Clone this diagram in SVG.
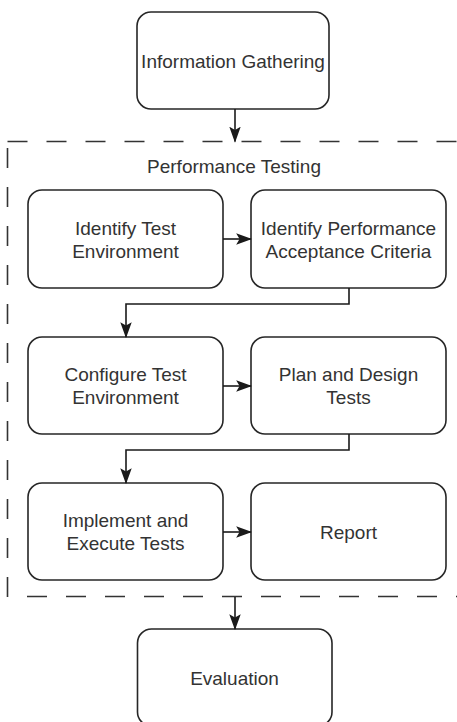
<svg xmlns="http://www.w3.org/2000/svg" width="457" height="722" viewBox="0 0 457 722">
  <style>
    .box { fill: #ffffff; stroke: #262626; stroke-width: 1.6; }
    .lbl { font-family: "Liberation Sans", Arial, sans-serif; font-size: 19px; fill: #333333; text-anchor: middle; }
    .edge { fill: none; stroke: #1a1a1a; stroke-width: 1.6; marker-end: url(#arrow); }
    .dash { fill: none; stroke: #333333; stroke-width: 1.6; stroke-dasharray: 20 19; }
  </style>
  <defs>
    <marker id="arrow" markerUnits="userSpaceOnUse" markerWidth="16" markerHeight="12" viewBox="0 0 14 10" refX="13" refY="5" orient="auto">
      <path d="M0,0 L14,5 L0,10 L3,5 Z" fill="#1a1a1a"/>
    </marker>
  </defs>
  <rect width="457" height="722" fill="#ffffff"/>

  <!-- Performance Testing swimlane (dashed, open to the right) -->
  <g id="performance-testing">
    <line class="dash" x1="7.5" y1="141.5" x2="460" y2="141.5"/>
    <line class="dash" x1="7.5" y1="148" x2="7.5" y2="597"/>
    <line class="dash" x1="27" y1="596.5" x2="460" y2="596.5"/>
    <text class="lbl" x="234" y="172.5">Performance Testing</text>
  </g>

  <g id="information-gathering">
    <rect class="box" x="137" y="12" width="192" height="97" rx="14"/>
    <text class="lbl" x="233" y="67.5">Information Gathering</text>
  </g>

  <g id="identify-test-environment">
    <rect class="box" x="28" y="190" width="195" height="98" rx="14"/>
    <text class="lbl" x="125.5" y="234.5">Identify Test</text>
    <text class="lbl" x="125.5" y="257.5">Environment</text>
  </g>

  <g id="identify-acceptance-criteria">
    <rect class="box" x="251" y="190" width="195" height="98" rx="14"/>
    <text class="lbl" x="348.5" y="234.5">Identify Performance</text>
    <text class="lbl" x="348.5" y="257.5">Acceptance Criteria</text>
  </g>

  <g id="configure-test-environment">
    <rect class="box" x="28" y="337" width="195" height="97" rx="14"/>
    <text class="lbl" x="125.5" y="381">Configure Test</text>
    <text class="lbl" x="125.5" y="404">Environment</text>
  </g>

  <g id="plan-and-design-tests">
    <rect class="box" x="251" y="337" width="195" height="97" rx="14"/>
    <text class="lbl" x="348.5" y="381">Plan and Design</text>
    <text class="lbl" x="348.5" y="404">Tests</text>
  </g>

  <g id="implement-and-execute-tests">
    <rect class="box" x="28" y="483" width="195" height="97" rx="14"/>
    <text class="lbl" x="125.5" y="527">Implement and</text>
    <text class="lbl" x="125.5" y="550">Execute Tests</text>
  </g>

  <g id="report">
    <rect class="box" x="251" y="483" width="195" height="97" rx="14"/>
    <text class="lbl" x="348.5" y="538.5">Report</text>
  </g>

  <g id="evaluation">
    <rect class="box" x="137.5" y="629" width="194.5" height="97" rx="14"/>
    <text class="lbl" x="234.5" y="684.5">Evaluation</text>
  </g>

  <g id="connectors">
    <path class="edge" d="M235,109 L235,141.5"/>
    <path class="edge" d="M223,239 L251,239"/>
    <path class="edge" d="M349,288 L349,304 L126,304 L126,337"/>
    <path class="edge" d="M223,386 L251,386"/>
    <path class="edge" d="M349,434 L349,450 L126,450 L126,483"/>
    <path class="edge" d="M223,532 L251,532"/>
    <path class="edge" d="M235,597 L235,629"/>
  </g>
</svg>
